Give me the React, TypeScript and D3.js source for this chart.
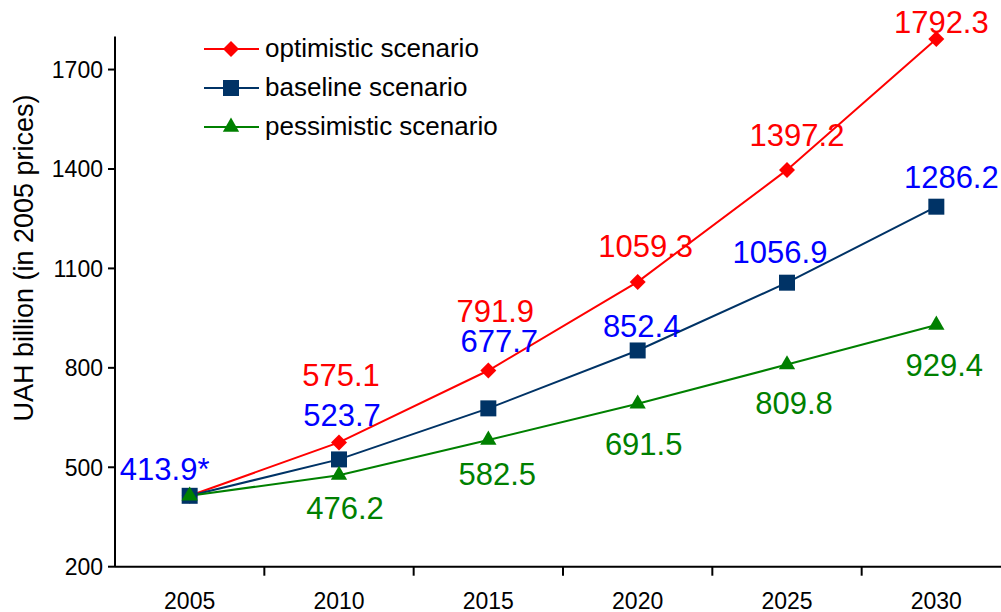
import React from 'react';
import * as d3 from 'd3';

// chart values
const years = ['2005', '2010', '2015', '2020', '2025', '2030'];
const optimistic = [413.9, 575.1, 791.9, 1059.3, 1397.2, 1792.3];
const baseline = [413.9, 523.7, 677.7, 852.4, 1056.9, 1286.2];
const pessimistic = [413.9, 476.2, 582.5, 691.5, 809.8, 929.4];
const yTicks = [200, 500, 800, 1100, 1400, 1700];
const seriesNames = ['optimistic scenario', 'baseline scenario', 'pessimistic scenario'];

// label offsets from each point (px), null = no label
const optOffsets = [null, [2, -56], [7, -49], [8, -25], [10, -24], [5, -6]];
const baseOffsets = [[-25, -16], [3, -33], [11, -56], [4, -13], [-7, -20], [15, -19]];
const pessOffsets = [null, [6, 44], [9, 45], [6, 51], [7, 49], [8, 51]];

const W = 1001, H = 612;
const left = 115, axisY = 566.7, top = 36.4;
const FONT = '"Liberation Sans", Arial, sans-serif';

const x = d3.scaleBand().domain(years).range([left, 1011]).padding(0);
const cx = (yr: string) => (x(yr) as number) + x.bandwidth() / 2;
const y = d3.scaleLinear().domain([200, 1800]).range([axisY, top]);

const series = [
  { name: seriesNames[0], values: optimistic, line: '#ff0000', label: '#ff0000', shape: 'diamond', offsets: optOffsets },
  { name: seriesNames[1], values: baseline, line: '#003366', label: '#0000ff', shape: 'square', offsets: baseOffsets },
  { name: seriesNames[2], values: pessimistic, line: '#008000', label: '#008000', shape: 'triangle', offsets: pessOffsets },
];

const markerPath = (shape: string) => {
  if (shape === 'square') return d3.symbol(d3.symbolSquare, 256)() as string;
  if (shape === 'diamond') return d3.symbol(d3.symbolSquare, 128)() as string;
  return d3.symbol(d3.symbolTriangle, 115)() as string;
};
const markerRot = (shape: string) => (shape === 'diamond' ? ' rotate(45)' : '');

const App = () => {
  const line = d3.line<number>()
    .x((_, i) => cx(years[i]))
    .y((d) => y(d));

  return (
    <svg width={W} height={H} style={{ position: 'absolute', left: 0, top: 0, background: '#fff' }} fontFamily={FONT}>
      {/* y axis */}
      <line x1={left} x2={left} y1={top} y2={axisY} stroke="#000" strokeWidth={2} />
      {yTicks.map((t) => (
        <g key={t} transform={`translate(${left},${y(t)})`}>
          <line x1={-7} x2={0} stroke="#000" strokeWidth={2} />
          <text x={-12} dy="0.36em" textAnchor="end" fontSize={23}>{t}</text>
        </g>
      ))}
      <text transform={`translate(33,258) rotate(-90)`} textAnchor="middle" fontSize={27}>
        UAH billion (in 2005 prices)
      </text>

      {/* x axis */}
      <line x1={left} x2={W} y1={axisY} y2={axisY} stroke="#000" strokeWidth={2} />
      {years.slice(1).map((yr) => (
        <line key={yr} x1={x(yr)} x2={x(yr)} y1={axisY} y2={axisY + 9} stroke="#000" strokeWidth={2} />
      ))}
      {years.map((yr) => (
        <text key={yr} x={cx(yr)} y={609} textAnchor="middle" fontSize={23}>{yr}</text>
      ))}

      {/* lines, markers */}
      {series.map((s) => (
        <g key={s.name}>
          <path d={line(s.values) as string} fill="none" stroke={s.line} strokeWidth={2} />
        </g>
      ))}
      {series.map((s) => (
        <g key={s.name + 'm'}>
          {s.values.map((v, i) => (
            <path key={i} d={markerPath(s.shape)} fill={s.line}
              transform={`translate(${cx(years[i])},${y(v)})${markerRot(s.shape)}`} />
          ))}
        </g>
      ))}

      {/* data labels */}
      {series.map((s) => (
        <g key={s.name + 'l'}>
          {s.values.map((v, i) => {
            const o = s.offsets[i];
            if (!o) return null;
            const txt = i === 0 ? `${v}*` : `${v}`;
            return (
              <text key={i} x={cx(years[i]) + o[0]} y={y(v) + o[1]} textAnchor="middle"
                fontSize={31} fill={s.label}>{txt}</text>
            );
          })}
        </g>
      ))}

      {/* legend */}
      {series.map((s, i) => {
        const ly = 49 + i * 39;
        return (
          <g key={s.name + 'g'}>
            <line x1={204} x2={259} y1={ly} y2={ly} stroke={s.line} strokeWidth={2} />
            <path d={markerPath(s.shape)} fill={s.line} transform={`translate(231,${ly})${markerRot(s.shape)}`} />
            <text x={265} y={ly + 8} fontSize={26}>{s.name}</text>
          </g>
        );
      })}
    </svg>
  );
};

export default App;
